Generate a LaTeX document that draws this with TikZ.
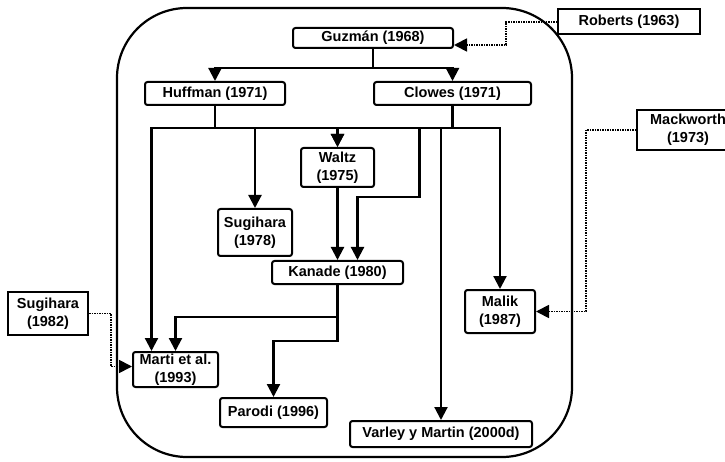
\documentclass[tikz,border=0pt]{standalone}
\usepackage{fontspec}
\setmainfont{Liberation Sans}
\usetikzlibrary{arrows.meta,positioning}

\begin{document}
\begin{tikzpicture}[x=1pt,y=-1pt,
   box/.style={draw, line width=2pt, rounded corners=2.5pt, inner sep=1pt, align=center, font=\fontsize{14.5}{18}\selectfont\bfseries},
   link/.style={line width=2.2pt, -{Triangle[width=13pt,length=13pt]}},
   hint/.style={link, line width=1.8pt, dash pattern=on 1.5pt off 1pt}]

   \clip (0,0) rectangle (725,462);

   % the big frame
   \draw[line width=2.2pt, rounded corners=70pt] (117,8) rectangle (572,457);

   \node[box, minimum width=160pt, minimum height=20pt] (guzman) at (373,38) {Guzmán (1968)};
   \node[box, minimum width=142pt, minimum height=25pt, rounded corners=0pt] (roberts) at (629,22) {Roberts (1963)};
   \node[box, minimum width=140pt, minimum height=23pt] (huffman) at (215,93.5) {Huffman (1971)};
   \node[box, minimum width=157pt, minimum height=23pt] (clowes) [right=87pt of huffman] {Clowes (1971)};
   \node[box, minimum width=102pt, minimum height=40pt, rounded corners=0pt] (mackworth) at (688,130) {Mackworth\\(1973)};
   \node[box, minimum width=73pt, minimum height=39pt] (waltz) at (337.5,167.5) {Waltz\\(1975)};
   \node[box, minimum width=74pt, minimum height=47pt] (sugihara1) at (255,232.5) {Sugihara\\(1978)};
   \node[box, minimum width=131pt, minimum height=23pt] (kanade) [below=72pt of waltz] {Kanade (1980)};
   \node[box, minimum width=80pt, minimum height=43pt, rounded corners=0pt] (sugihara2) at (48,313.5) {Sugihara\\(1982)};
   \node[box, minimum width=70pt, minimum height=43pt] (malik) at (500,311.5) {Malik\\(1987)};
   \node[box, minimum width=85pt, minimum height=35pt] (marti) at (175.5,369.5) {Marti et al.\\(1993)};
   \node[box, minimum width=107pt, minimum height=29pt] (parodi) at (273.5,412.5) {Parodi (1996)};
   \node[box, minimum width=182pt, minimum height=26pt] (varley) at (441,434) {Varley y Martin (2000d)};

   \draw[link] (guzman.south) -- ++(0,19) -| (huffman.north);
   \draw[link] (guzman.south) -- ++(0,19) -| (clowes.north);

   \draw[link] (huffman.south) -- ++(0,22) -| ([xshift=-24pt]marti.north);
   \draw[link] (huffman.south) -- ++(0,22) -| (sugihara1.north);
   \draw[link] (huffman.south) -- ++(0,22) -| (waltz.north);

   \draw[link] (clowes.south) -- ++(0,22) -| (waltz.north);
   \draw[link] (clowes.south) -- ++(0,22) -| ++(-33,69) -| ([xshift=20pt]kanade.north);
   \draw[link] (clowes.south) -- ++(0,22) -| (varley.north);
   \draw[link] (clowes.south) -- ++(0,22) -| (malik.north);

   \draw[link] (waltz.south) -- (kanade.north);
   \draw[link] (kanade.south) -- ++(0,32) -| (marti.north);
   \draw[link] (kanade.south) -- ++(0,56) -| (parodi.north);

   \draw[hint] (roberts.west) -- ++(-51,0) |- ([yshift=-7pt]guzman.east);
   \draw[hint] (mackworth.west) -- ++(-50,0) |- (malik.east);
   \draw[hint] (sugihara2.east) -- ++(22,0) |- ([yshift=3pt]marti.west);

\end{tikzpicture}
\end{document}
